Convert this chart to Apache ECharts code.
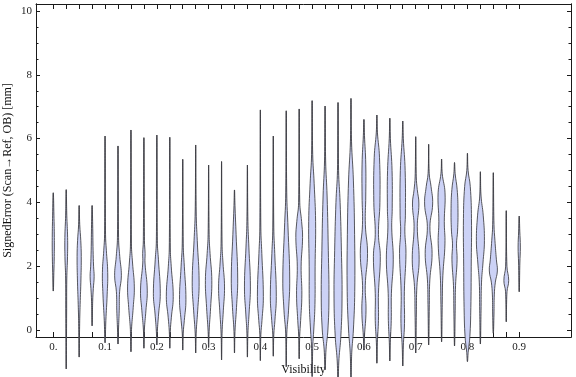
<!DOCTYPE html>
<html>
<head>
<meta charset="utf-8">
<script src="https://cdn.jsdelivr.net/npm/echarts@6/dist/echarts.min.js"></script>
<style>
html,body{margin:0;padding:0;background:#fff;}
#chart{width:576px;height:377px;}
</style>
</head>
<body>
<div id="chart"></div>
<script>
// ---- data ----
const positions = [0,0.025,0.05,0.075,0.1,0.125,0.15,0.175,0.2,0.225,0.25,0.275,0.3,0.325,0.35,0.375,0.4,0.425,0.45,0.475,0.5,0.525,0.55,0.575,0.6,0.625,0.65,0.675,0.7,0.725,0.75,0.775,0.8,0.825,0.85,0.875,0.9];
const maxVals = [4.3,4.4,3.9,3.9,6.08,5.77,6.27,6.03,6.11,6.04,5.35,5.8,5.17,5.28,4.39,5.17,6.9,6.08,6.87,6.93,7.19,7.02,7.13,7.26,6.6,6.74,6.64,6.55,6.06,5.82,5.36,5.25,5.54,4.96,4.93,3.74,3.57];
const minVals = [1.22,-1.22,-0.85,0.13,-0.4,-0.44,-0.68,-0.57,-0.47,-0.57,-0.63,-0.72,-0.55,-0.94,-0.72,-0.85,-0.96,-0.82,-1.15,-0.9,-1.46,-1.25,-1.5,-1.5,-0.63,-1.04,-0.97,-1.13,-0.72,-0.47,-0.37,-0.5,-0.99,-0.44,-0.1,0.26,1.2];
// density profiles: [value, relative half-width], from top to bottom
const profiles = [
  [[3.6,0.8],[2.9,1.3],[2.3,1.2],[1.8,0.7]],
  [[3.6,0.7],[2.9,1.7],[2.3,1.6],[1.6,0.7],[0.5,0.5]],
  [[3.3,0.7],[2.8,2.0],[2.3,2.6],[1.6,2.2],[0.8,1.2],[0.2,0.6]],
  [[3.3,0.7],[2.5,1.2],[2.0,1.8],[1.67,2.5],[1.3,1.5],[0.9,0.7]],
  [[3.0,0.6],[2.5,1.6],[1.8,3.3],[1.1,2.6],[0.3,1.0],[-0.1,0.5]],
  [[2.9,0.7],[2.3,2.2],[1.7,4.2],[1.2,2.0],[0.6,1.5],[0.0,0.6]],
  [[2.7,0.6],[2.1,2.0],[1.35,4.2],[0.7,2.8],[0.1,0.9],[-0.2,0.5]],
  [[2.8,0.7],[2.4,1.5],[2.1,1.4],[1.25,4.2],[0.6,2.5],[0.0,0.6]],
  [[2.8,0.6],[2.2,2.0],[1.15,4.3],[0.5,2.2],[-0.05,0.6]],
  [[2.6,0.6],[2.0,1.8],[1.05,4.3],[0.4,2.0],[-0.05,0.6]],
  [[2.7,0.6],[2.0,2.0],[0.95,4.0],[0.3,2.0],[-0.1,0.6]],
  [[3.7,0.6],[2.8,2.0],[1.5,4.3],[0.6,2.5],[-0.1,0.6]],
  [[3.0,0.6],[2.4,1.8],[1.55,4.0],[0.7,2.5],[-0.05,0.6]],
  [[2.7,0.6],[2.1,1.8],[1.35,3.7],[0.6,2.2],[-0.1,0.6]],
  [[3.9,0.6],[3.0,2.0],[1.6,4.0],[0.7,2.5],[-0.05,0.6]],
  [[3.4,0.6],[2.6,1.8],[1.35,3.7],[0.5,2.0],[-0.1,0.6]],
  [[3.2,0.6],[2.4,1.8],[1.05,3.7],[0.3,2.0],[-0.15,0.6]],
  [[3.2,0.6],[2.4,1.8],[1.05,3.7],[0.3,2.0],[-0.15,0.6]],
  [[4.3,0.6],[3.2,2.2],[1.6,4.3],[0.6,2.8],[-0.1,0.7]],
  [[4.0,0.7],[3.4,3.0],[2.9,4.2],[2.0,2.4],[1.1,3.3],[0.3,1.8],[-0.2,0.6]],
  [[5.5,0.7],[4.6,2.5],[3.4,4.3],[2.0,3.7],[0.8,3.5],[0.0,2.0],[-0.5,0.8]],
  [[5.3,0.7],[4.2,2.5],[2.5,4.0],[1.0,4.8],[0.0,3.5],[-0.6,1.2]],
  [[5.0,0.7],[4.0,2.6],[2.5,4.2],[1.0,5.0],[-0.2,3.5],[-0.9,1.2]],
  [[5.9,0.7],[4.7,3.0],[3.0,4.5],[1.2,4.7],[0.0,3.0],[-0.7,1.0]],
  [[6.1,0.7],[5.2,2.3],[4.2,2.3],[3.3,1.8],[2.4,4.5],[1.4,1.7],[0.6,2.6],[-0.2,0.7]],
  [[6.2,0.7],[5.4,3.3],[4.0,3.8],[3.0,2.0],[2.3,4.3],[1.15,2.0],[0.3,2.0],[-0.4,0.6]],
  [[6.0,0.7],[5.0,2.8],[3.8,3.0],[3.2,2.4],[2.2,4.3],[1.15,2.0],[0.3,1.8],[-0.4,0.6]],
  [[6.0,0.7],[5.0,3.0],[3.6,3.3],[3.1,2.6],[2.4,4.0],[1.2,2.0],[0.2,2.2],[-0.5,0.7]],
  [[4.8,0.7],[4.4,2.0],[3.95,4.0],[3.24,2.0],[2.2,4.3],[1.36,1.5],[0.5,0.8]],
  [[4.9,0.7],[4.5,3.0],[3.95,5.0],[3.24,1.6],[2.4,4.3],[1.57,1.5],[0.8,0.8]],
  [[4.9,0.8],[4.3,4.3],[3.4,3.4],[2.7,4.2],[1.7,1.6],[0.8,0.8]],
  [[4.9,0.8],[4.4,3.3],[3.8,4.3],[3.1,3.8],[2.7,2.5],[2.2,3.2],[1.4,1.3],[0.6,0.8]],
  [[5.0,0.8],[4.5,3.5],[3.5,5.0],[2.0,4.7],[0.7,4.2],[-0.2,3.0],[-0.7,0.9]],
  [[4.2,0.8],[3.6,3.5],[2.8,5.0],[2.1,3.2],[1.5,1.4],[0.6,0.8]],
  [[3.3,0.8],[2.8,2.0],[2.2,3.8],[1.85,5.0],[1.5,2.5],[1.1,1.2],[0.5,0.8]],
  [[2.0,0.8],[1.55,3.0],[1.2,0.9]],
  [[3.1,0.7],[2.6,1.4],[2.1,0.8]]
];
const xTickValues = [0,0.1,0.2,0.3,0.4,0.5,0.6,0.7,0.8,0.9];
const xTickLabels = ['0.','0.1','0.2','0.3','0.4','0.5','0.6','0.7','0.8','0.9'];
const yTickValues = [0,2,4,6,8,10];
const yTickLabels = ['0','2','4','6','8','10'];
const yMinorTicks = [0.5,1,1.5,2.5,3,3.5,4.5,5,5.5,6.5,7,7.5,8.5,9,9.5];
const xTitle = 'Visibility';
const yTitle = 'SignedError (Scan\u2192Ref, OB) [mm]';

// ---- chart ----
const WIDTH_UNIT = 0.00155; // x-axis units per density unit
const X_MIN = -0.0334, X_MAX = 1.0;
const Y_MIN = -0.22, Y_MAX = 10.22;
const FONT = '"Liberation Serif", "DejaVu Serif", serif';
const AXIS_COLOR = '#1a1a1a';

const chart = echarts.init(document.getElementById('chart'), null, {renderer: 'canvas'});

const violinData = positions.map((p, i) => [p, minVals[i], maxVals[i], i]);

function labelFor(values, labels) {
  return function (v) {
    for (let k = 0; k < values.length; k++) {
      if (Math.abs(values[k] - v) < 1e-9) return labels[k];
    }
    return '';
  };
}

function xAxisDef(pos, showLabels) {
  return {
    type: 'value', position: pos, min: X_MIN, max: X_MAX,
    axisLine: {show: true, onZero: false, lineStyle: {color: AXIS_COLOR, width: 1}},
    axisTick: {show: true, inside: true, length: 5, customValues: positions, lineStyle: {color: AXIS_COLOR, width: 1}},
    axisLabel: showLabels ? {
      show: true, customValues: xTickValues, formatter: labelFor(xTickValues, xTickLabels),
      fontFamily: FONT, fontSize: 11, color: '#222', margin: 5
    } : {show: false},
    splitLine: {show: false},
    name: showLabels ? xTitle : '',
    nameLocation: 'middle', nameGap: 27, nameMoveOverlap: false,
    nameTextStyle: {fontFamily: FONT, fontSize: 12, color: '#111'}
  };
}

function yAxisDef(pos, ticks, len, showLabels) {
  return {
    type: 'value', position: pos, min: Y_MIN, max: Y_MAX,
    axisLine: {show: true, onZero: false, lineStyle: {color: AXIS_COLOR, width: 1}},
    axisTick: {show: true, inside: true, length: len, customValues: ticks, lineStyle: {color: AXIS_COLOR, width: 1}},
    axisLabel: showLabels ? {
      show: true, customValues: yTickValues, formatter: labelFor(yTickValues, yTickLabels),
      fontFamily: FONT, fontSize: 11, color: '#222', margin: 4
    } : {show: false},
    splitLine: {show: false},
    name: showLabels ? yTitle : '',
    nameLocation: 'middle', nameGap: 22, nameRotate: 90, nameMoveOverlap: false,
    nameTextStyle: {fontFamily: FONT, fontSize: 12, color: '#111'}
  };
}

const option = {
  animation: false,
  backgroundColor: '#fff',
  grid: {left: 36, right: 5, top: 4, bottom: 40, containLabel: false, outerBoundsMode: 'none'},
  xAxis: [xAxisDef('bottom', true), xAxisDef('top', false)],
  yAxis: [
    yAxisDef('left', yTickValues, 4, true),
    yAxisDef('left', yMinorTicks, 2.5, false),
    yAxisDef('right', yTickValues, 4, false),
    yAxisDef('right', yMinorTicks, 2.5, false)
  ],
  series: [{
    type: 'custom',
    xAxisIndex: 0, yAxisIndex: 0,
    clip: false,
    data: violinData,
    renderItem: function (params, api) {
      const x = api.value(0), lo = api.value(1), hi = api.value(2), idx = api.value(3);
      const prof = profiles[idx];
      const top = api.coord([x, hi]);
      const bot = api.coord([x, lo]);
      const pts = [top];
      for (let k = 0; k < prof.length; k++) {
        pts.push(api.coord([x + prof[k][1] * WIDTH_UNIT, prof[k][0]]));
      }
      pts.push(bot);
      for (let k = prof.length - 1; k >= 0; k--) {
        pts.push(api.coord([x - prof[k][1] * WIDTH_UNIT, prof[k][0]]));
      }
      return {
        type: 'group',
        children: [
          {
            type: 'line',
            shape: {x1: top[0], y1: top[1], x2: bot[0], y2: bot[1]},
            style: {stroke: 'rgba(50,50,55,0.75)', lineWidth: 1.1}
          },
          {
            type: 'polygon',
            shape: {points: pts, smooth: 0.45},
            style: {fill: '#ccd2f6', stroke: 'rgba(60,60,66,0.85)', lineWidth: 1}
          }
        ]
      };
    }
  }]
};
chart.setOption(option);
</script>
</body>
</html>
